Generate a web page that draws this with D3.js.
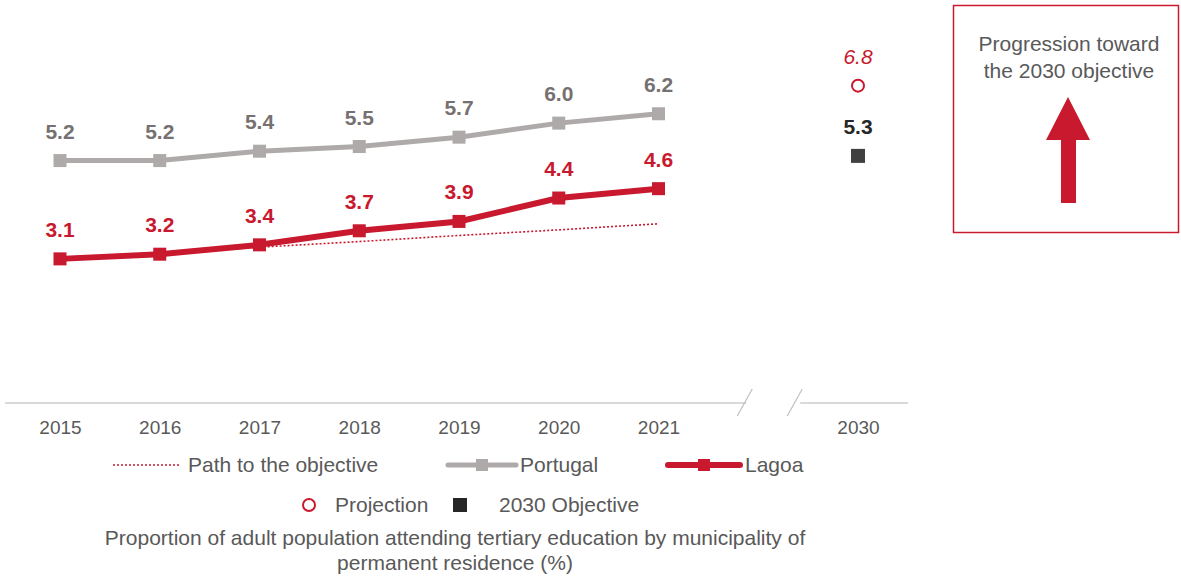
<!DOCTYPE html>
<html>
<head>
<meta charset="utf-8">
<script src="https://cdn.jsdelivr.net/npm/d3@7"></script>
<style>
  body { margin: 0; background: #fff; }
  svg { font-family: "Liberation Sans", Arial, sans-serif; }
</style>
</head>
<body>
<div id="chart"></div>
<script>
/* Lagoa vs Portugal - tertiary education, with 2030 objective */

const years = ["2015", "2016", "2017", "2018", "2019", "2020", "2021"];
const portugal = [5.2, 5.2, 5.4, 5.5, 5.7, 6.0, 6.2];
const lagoa = [3.1, 3.2, 3.4, 3.7, 3.9, 4.4, 4.6];
const pathToObjective = [3.1, 3.22, 3.35, 3.47, 3.6, 3.72, 3.85];
const targetYear = "2030";
const projection = 6.8;
const objective = 5.3;

const width = 1181, height = 577;
const red = "#c8192e", gray = "#aeaaaa", textGray = "#595959";

let svg = d3.select("#chart")
    .append("svg")
    .attr("width", width)
    .attr("height", height);

// x positions: the years, an empty slot for the axis break, then 2030
let x = d3.scalePoint()
    .domain([...years, "gap", targetYear])
    .range([60, 858]);

let y = d3.scaleLinear()
    .domain([0, 8.63])
    .range([404, 0]);

// axis with a break
let axisY = y(0) - 1;
let axis = svg.append("g");
axis.append("line")
    .attr("x1", 5).attr("x2", x("gap") - 12)
    .attr("y1", axisY).attr("y2", axisY)
    .attr("stroke", "#d9d9d9").attr("stroke-width", 2);
axis.append("line")
    .attr("x1", x("gap") + 42).attr("x2", 908)
    .attr("y1", axisY).attr("y2", axisY)
    .attr("stroke", "#d9d9d9").attr("stroke-width", 2);
[x("gap") - 12, x("gap") + 38].forEach(cx => {
    axis.append("line")
        .attr("x1", cx - 9).attr("y1", axisY + 13)
        .attr("x2", cx + 6).attr("y2", axisY - 14)
        .attr("stroke", "#bfbfbf").attr("stroke-width", 1.2);
});

svg.append("g")
    .attr("transform", `translate(0,${axisY})`)
    .call(d3.axisBottom(x).tickSize(0).tickPadding(18)
        .tickFormat(d => d === "gap" ? "" : d))
    .call(g => g.select(".domain").remove())
    .selectAll("text")
    .attr("font-size", 19)
    .attr("font-family", "Liberation Sans, Arial, sans-serif")
    .attr("fill", textGray);

// series
let line = d3.line()
    .x((d, i) => x(years[i]))
    .y(d => y(d));

svg.append("path")
    .datum(pathToObjective)
    .attr("d", line)
    .attr("fill", "none")
    .attr("stroke", red)
    .attr("stroke-width", 1.6)
    .attr("stroke-dasharray", "2,2");

function drawSeries(values, color, lw, labelColor) {
    svg.append("path")
        .datum(values)
        .attr("d", line)
        .attr("fill", "none")
        .attr("stroke", color)
        .attr("stroke-width", lw);

    svg.selectAll(null)
        .data(values)
        .join("rect")
        .attr("x", (d, i) => x(years[i]) - 6.5)
        .attr("y", d => y(d) - 6.5)
        .attr("width", 13)
        .attr("height", 13)
        .attr("fill", color);

    svg.selectAll(null)
        .data(values)
        .join("text")
        .text(d => d.toFixed(1))
        .attr("x", (d, i) => x(years[i]))
        .attr("y", d => y(d) - 22)
        .attr("text-anchor", "middle")
        .attr("font-size", 21)
        .attr("font-weight", "bold")
        .attr("fill", labelColor);
}

drawSeries(portugal, gray, 5, "#767171");
drawSeries(lagoa, red, 6, red);

// 2030 projection and objective
svg.append("circle")
    .attr("cx", x(targetYear))
    .attr("cy", y(projection))
    .attr("r", 6)
    .attr("fill", "#fff")
    .attr("stroke", red)
    .attr("stroke-width", 2);
svg.append("text")
    .text(projection.toFixed(1))
    .attr("x", x(targetYear))
    .attr("y", y(projection) - 22)
    .attr("text-anchor", "middle")
    .attr("font-size", 21)
    .attr("font-style", "italic")
    .attr("fill", red);

svg.append("rect")
    .attr("x", x(targetYear) - 7)
    .attr("y", y(objective) - 7)
    .attr("width", 14)
    .attr("height", 14)
    .attr("fill", "#404040");
svg.append("text")
    .text(objective.toFixed(1))
    .attr("x", x(targetYear))
    .attr("y", y(objective) - 22)
    .attr("text-anchor", "middle")
    .attr("font-size", 21)
    .attr("font-weight", "bold")
    .attr("fill", "#262626");

// legend
let legend = svg.append("g").attr("font-size", 21).attr("fill", textGray);

legend.append("line")
    .attr("x1", 113).attr("x2", 181).attr("y1", 465).attr("y2", 465)
    .attr("stroke", red).attr("stroke-width", 1.6).attr("stroke-dasharray", "2,2");
legend.append("text").text("Path to the objective").attr("x", 188).attr("y", 472);

legend.append("line")
    .attr("x1", 448).attr("x2", 516).attr("y1", 465).attr("y2", 465)
    .attr("stroke", gray).attr("stroke-width", 5).attr("stroke-linecap", "round");
legend.append("rect").attr("x", 476).attr("y", 459).attr("width", 12).attr("height", 12).attr("fill", gray);
legend.append("text").text("Portugal").attr("x", 520).attr("y", 472);

legend.append("line")
    .attr("x1", 668).attr("x2", 740).attr("y1", 465).attr("y2", 465)
    .attr("stroke", red).attr("stroke-width", 6).attr("stroke-linecap", "round");
legend.append("rect").attr("x", 698).attr("y", 459).attr("width", 12).attr("height", 12).attr("fill", red);
legend.append("text").text("Lagoa").attr("x", 745).attr("y", 472);

legend.append("circle")
    .attr("cx", 309).attr("cy", 505).attr("r", 6)
    .attr("fill", "none").attr("stroke", red).attr("stroke-width", 2);
legend.append("text").text("Projection").attr("x", 335).attr("y", 512);
legend.append("rect").attr("x", 453).attr("y", 498).attr("width", 14).attr("height", 14).attr("fill", "#262626");
legend.append("text").text("2030 Objective").attr("x", 499).attr("y", 512);

// caption
let caption = svg.append("text")
    .attr("text-anchor", "middle")
    .attr("font-size", 21)
    .attr("fill", textGray);
caption.append("tspan").attr("x", 455).attr("y", 545)
    .text("Proportion of adult population attending tertiary education by municipality of");
caption.append("tspan").attr("x", 455).attr("y", 570)
    .text("permanent residence (%)");

// side box
let box = svg.append("g");
box.append("rect")
    .attr("x", 953.5).attr("y", 5.5).attr("width", 225).attr("height", 227)
    .attr("fill", "#fff").attr("stroke", red).attr("stroke-width", 1.5);
box.append("text")
    .attr("text-anchor", "middle")
    .attr("font-size", 21)
    .attr("fill", textGray)
    .selectAll("tspan")
    .data(["Progression toward", "the 2030 objective"])
    .join("tspan")
    .attr("x", 1069)
    .attr("y", (d, i) => 51 + i * 27)
    .text(d => d);
box.append("path")
    .attr("d", "M1068,97 L1090,140 L1076,140 L1076,203 L1061,203 L1061,140 L1046,140 Z")
    .attr("fill", red);
</script>
</body>
</html>
